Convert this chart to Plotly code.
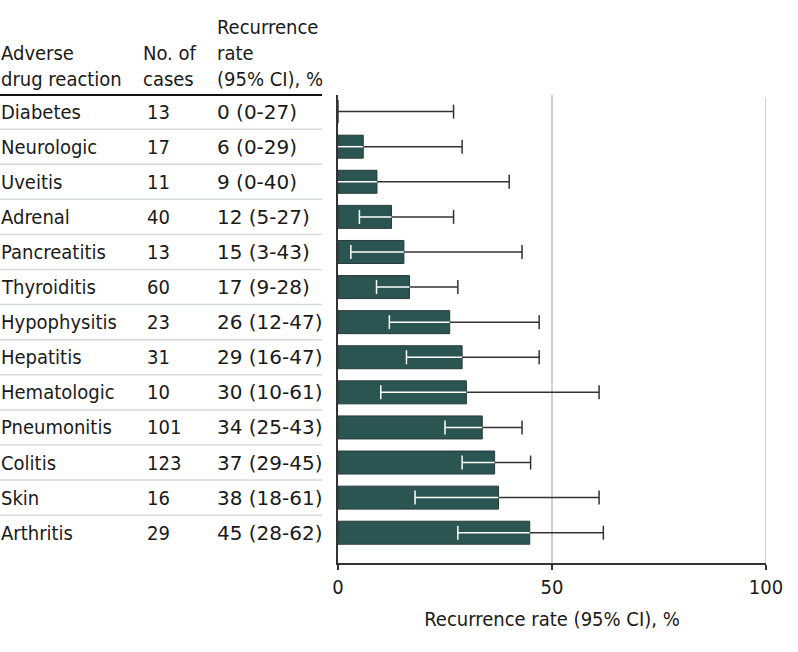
import plotly.graph_objects as go

# ---------------- data ----------------
reactions = ["Diabetes", "Neurologic", "Uveitis", "Adrenal", "Pancreatitis", "Thyroiditis",
             "Hypophysitis", "Hepatitis", "Hematologic", "Pneumonitis", "Colitis", "Skin", "Arthritis"]
cases = [13, 17, 11, 40, 13, 60, 23, 31, 10, 101, 123, 16, 29]
rates = [0, 5.9, 9.1, 12.5, 15.4, 16.7, 26.1, 29.0, 30.0, 33.7, 36.6, 37.5, 44.8]
ci_low = [0, 0, 0, 5, 3, 9, 12, 16, 10, 25, 29, 18, 28]
ci_high = [27, 29, 40, 27, 43, 28, 47, 47, 61, 43, 45, 61, 62]
rate_text = ["0 (0-27)", "6 (0-29)", "9 (0-40)", "12 (5-27)", "15 (3-43)", "17 (9-28)",
             "26 (12-47)", "29 (16-47)", "30 (10-61)", "34 (25-43)", "37 (29-45)",
             "38 (18-61)", "45 (28-62)"]
x_ticks = [0, 50, 100]

# ---------------- layout constants ----------------
W, H = 798, 652
L, R, T, B = 338, 32, 95, 89
PW = W - L - R
FONT = "DejaVu Sans Condensed, DejaVu Sans, Arial, sans-serif"
FONT_NUM = "DejaVu Sans, Arial, sans-serif"
TXT = "#1a1a1a"
BAR = "#2b5552"
DARK = "#333333"
GRID = "#d0d0d0"


def px_to_paper_x(px):
    return (px - L) / PW


fig = go.Figure()

fig.add_trace(go.Bar(
    y=reactions, x=rates, orientation="h", width=0.655,
    marker=dict(color=BAR, line=dict(color="#283a38", width=1)),
    hoverinfo="skip", showlegend=False,
))

# white part of CI (inside bar) and dark part (outside bar)
wx, wy, dx, dy = [], [], [], []
for r, v, lo, hi in zip(reactions, rates, ci_low, ci_high):
    if v > lo:
        wx += [lo, v, None]
        wy += [r, r, None]
    dx += [v, hi, None]
    dy += [r, r, None]

fig.add_trace(go.Scatter(x=dx, y=dy, mode="lines", line=dict(color=DARK, width=1.5),
                         hoverinfo="skip", showlegend=False))
fig.add_trace(go.Scatter(x=wx, y=wy, mode="lines", line=dict(color="white", width=1.5),
                         hoverinfo="skip", showlegend=False))

# caps
fig.add_trace(go.Scatter(
    x=ci_high, y=reactions, mode="markers",
    marker=dict(symbol="line-ns", size=10, line=dict(color=DARK, width=1.5)),
    hoverinfo="skip", showlegend=False))
lcx = [lo for lo, v in zip(ci_low, rates) if lo > 0]
lcy = [r for r, lo in zip(reactions, ci_low) if lo > 0]
fig.add_trace(go.Scatter(
    x=lcx, y=lcy, mode="markers",
    marker=dict(symbol="line-ns", size=10, line=dict(color="white", width=1.5)),
    hoverinfo="skip", showlegend=False))

# ---------------- table text ----------------
ann = []
col1, col2h, col2, col3 = 0, 142, 146, 216
for r, c, t in zip(reactions, cases, rate_text):
    ann.append(dict(x=px_to_paper_x(col1), xref="paper", y=r, yref="y", text=r,
                    xanchor="left", yanchor="middle", showarrow=False, borderpad=0,
                    font=dict(family=FONT, size=20, color=TXT)))
    ann.append(dict(x=px_to_paper_x(col2), xref="paper", y=r, yref="y", text=str(c),
                    xanchor="left", yanchor="middle", showarrow=False, borderpad=0,
                    font=dict(family=FONT, size=20, color=TXT)))
    ann.append(dict(x=px_to_paper_x(col3), xref="paper", y=r, yref="y", text=t,
                    xanchor="left", yanchor="middle", showarrow=False, borderpad=0,
                    font=dict(family=FONT_NUM, size=20, color=TXT)))

hy = (H - B - 92) / (H - T - B)
headers = [(col1, "Adverse<br>drug reaction"), (col2h, "No. of<br>cases"),
           (col3, "Recurrence<br>rate<br>(95% CI), %")]
for xp, t in headers:
    ann.append(dict(x=px_to_paper_x(xp), xref="paper", y=hy, yref="paper", text=t,
                    xanchor="left", yanchor="bottom", align="left", showarrow=False,
                    borderpad=0, font=dict(family=FONT, size=20, color=TXT)))

shapes = []
for i in range(len(reactions) - 1):
    shapes.append(dict(type="line", xref="paper", yref="y",
                       x0=px_to_paper_x(0), x1=px_to_paper_x(322), y0=i + 0.5, y1=i + 0.5,
                       line=dict(color="#d3ddd5", width=1.5)))
shapes.append(dict(type="line", xref="paper", yref="paper",
                   x0=px_to_paper_x(0), x1=px_to_paper_x(322), y0=1.0, y1=1.0,
                   line=dict(color="#111111", width=2)))
# gridline at the right end of the axis (plotly omits edge gridlines)
shapes.append(dict(type="line", xref="x", yref="paper", x0=x_ticks[-1], x1=x_ticks[-1],
                   y0=0, y1=0.995, layer="below", line=dict(color=GRID, width=2)))

fig.update_layout(
    width=W, height=H,
    margin=dict(l=L, r=R, t=T, b=B, pad=0),
    paper_bgcolor="white", plot_bgcolor="white",
    font=dict(family=FONT, size=20, color=TXT),
    annotations=ann, shapes=shapes,
    xaxis=dict(range=[0, 100], tickvals=x_ticks, ticktext=[str(v) for v in x_ticks],
               showgrid=True, gridcolor=GRID, gridwidth=2, zeroline=False,
               showline=True, linecolor=DARK, linewidth=1.5,
               ticks="outside", ticklen=5, tickwidth=1.5, tickcolor=DARK,
               tickfont=dict(size=20, color=TXT), fixedrange=True,
               title=dict(text="Recurrence rate (95% CI), %", font=dict(size=20, color=TXT),
                          standoff=14)),
    yaxis=dict(type="category", categoryorder="array", categoryarray=reactions,
               range=[12.863, -0.473], showticklabels=False, ticks="",
               showgrid=False, zeroline=False, showline=True, linecolor=DARK,
               linewidth=1.5, fixedrange=True),
)

fig.write_html("out.html", config={"displayModeBar": False},
               post_script="document.body.style.margin='0';document.body.style.overflow='hidden';")
